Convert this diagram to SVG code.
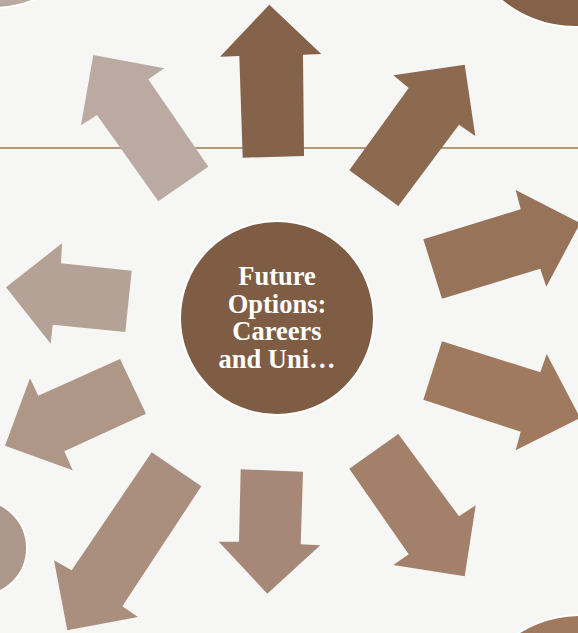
<svg xmlns="http://www.w3.org/2000/svg" width="578" height="633" viewBox="0 0 578 633">
  <style>
    .label { font-family: "Liberation Serif", "Times New Roman", serif; font-weight: bold; font-size: 26.5px; fill: #ffffff; text-anchor: middle; }
    .deco { stroke: #ffffff; stroke-width: 2; }
  </style>
  <rect width="578" height="633" fill="#f6f6f5"/>
  <line x1="0" y1="148" x2="578" y2="148" stroke="#b09a78" stroke-width="2.2"/>

  <g id="decorations">
    <circle class="deco" cx="-8" cy="-107" r="115" fill="#b9aaa1"/>
    <circle class="deco" cx="575" cy="-88" r="115" fill="#84624a"/>
    <circle class="deco" cx="-21" cy="548" r="48" fill="#ad978a"/>
    <circle class="deco" cx="580" cy="730" r="115" fill="#a07a5f"/>
  </g>

  <g id="arrow-top"><polygon fill="#85624a" points="269.3,4.7 220,56.7 239.3,56 242.7,157.7 304,156 303,54.7 321.3,54"/></g>
  <g id="arrow-upper-right"><polygon fill="#8c6a4f" points="464.7,64.7 475.3,136 459,124.7 398.3,206 349.3,170.3 408.7,88 393.3,75.3"/></g>
  <g id="arrow-right-upper"><polygon fill="#977359" points="580.2,223.2 546.3,286.7 540.3,268.7 442,298.7 423.3,239.3 520.7,209.3 515.7,190"/></g>
  <g id="arrow-right-lower"><polygon fill="#a07a5f" points="580.2,418 515.7,450.3 520.7,431.7 423.3,399.7 442,341.3 540.3,372.3 546.7,354"/></g>
  <g id="arrow-lower-right"><polygon fill="#a3806a" points="464.7,576.3 393.3,565 408.7,554.3 349.3,468.7 398.3,434 459,516.3 475.7,505.3"/></g>
  <g id="arrow-down"><polygon fill="#a78878" points="267.3,593.7 218.7,541.7 239,541.7 240.7,469.3 303,471.7 300.7,544.3 320.3,545.3"/></g>
  <g id="arrow-lower-left"><polygon fill="#aa8e7e" points="67.3,630.3 54,560.3 71.7,570.3 151.7,452.3 201.3,486.3 122.3,606.3 138,617"/></g>
  <g id="arrow-left-lower"><polygon fill="#af9787" points="5,445.7 30,378.3 38.3,395.7 120,359 146,413.7 64.3,451.3 72.7,470.3"/></g>
  <g id="arrow-left-upper"><polygon fill="#b5a297" points="6,287.3 62,243.3 61,263.3 131.7,270.7 125.3,332 52.7,324.7 50.7,343.7"/></g>
  <g id="arrow-upper-left"><polygon fill="#bbaaa1" points="93.3,55 164.3,68.3 148.3,79.3 208.3,166.7 158.3,201.3 97,115 81,125.3"/></g>

  <g id="center-node">
    <circle cx="277" cy="318" r="97" fill="#7e5d44" stroke="#ffffff" stroke-width="2"/>
    <text class="label" x="277" y="284.5">Future</text>
    <text class="label" x="277" y="312.5">Options:</text>
    <text class="label" x="277" y="340">Careers</text>
    <text class="label" x="277" y="367.5">and Uni…</text>
  </g>
</svg>
